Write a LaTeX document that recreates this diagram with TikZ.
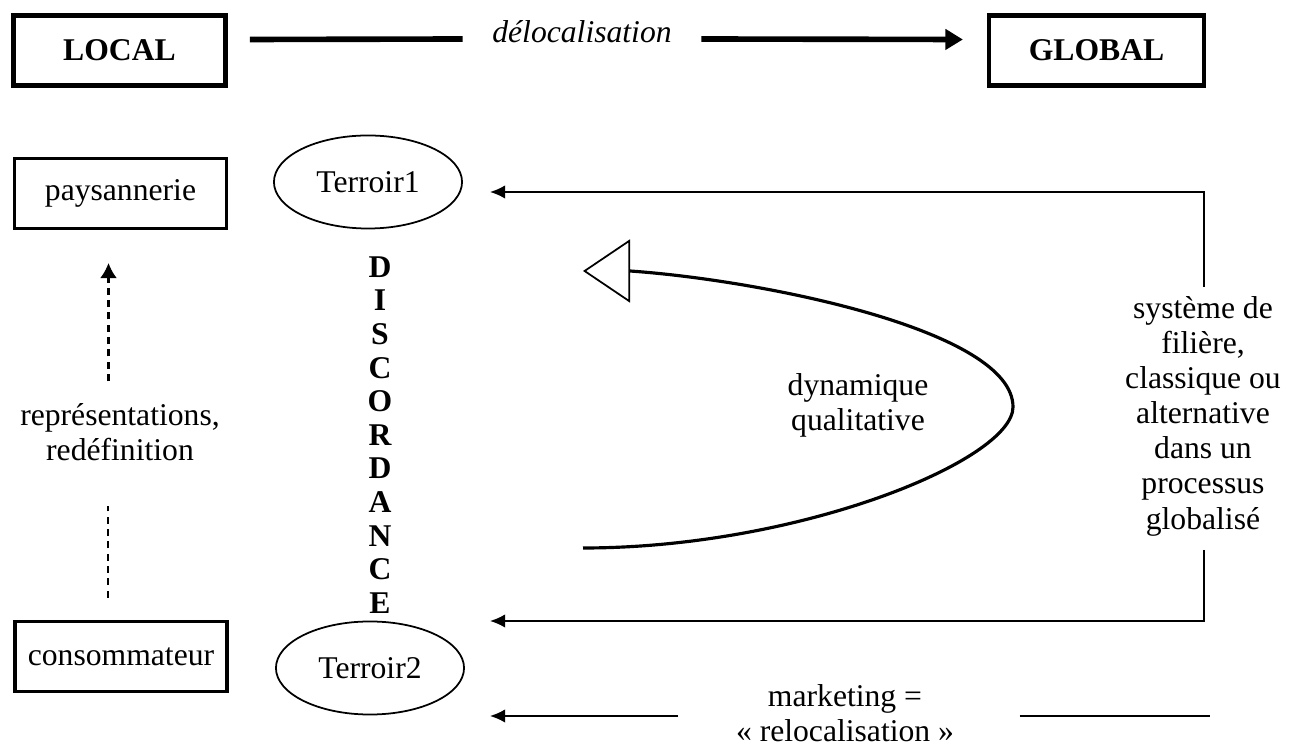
\documentclass[tikz,border=0pt]{standalone}
\usepackage{fontspec}
\setmainfont{Liberation Serif}
\usetikzlibrary{arrows.meta,positioning,calc,shapes.geometric}

\tikzset{
  lbl/.style={inner sep=0pt, align=center, font=\fontsize{9}{10}\selectfont},
  bigbox/.style={draw, line width=1.3pt, minimum width=2.12cm, minimum height=0.7cm, font=\fontsize{9}{10}\selectfont\bfseries},
  smallbox/.style={draw, line width=0.85pt, minimum width=2.12cm, minimum height=0.7cm, font=\fontsize{9}{10}\selectfont},
  terroir/.style={draw, ellipse, line width=0.5pt, minimum width=1.88cm, minimum height=0.93cm, inner sep=0pt, font=\fontsize{9}{10}\selectfont},
  flow/.style={line width=0.5pt, -{Latex[length=4.3pt,width=3.8pt]}},
  dashlink/.style={line width=0.6pt, dash pattern=on 2pt off 1.5pt},
}

\begin{document}
\begin{tikzpicture}[x=0.01cm, y=-0.01cm]
    \useasboundingbox (0,0) rectangle (1290,746);

    % top row
    \node[bigbox] (local) at (119.5,50.5) {LOCAL};
    \node[bigbox, minimum width=2.145cm] (global) at (1096.5,50.5) {GLOBAL};
    \node[lbl, font=\fontsize{9}{10}\selectfont\itshape] (deloc) at (582,32) {délocalisation};
    \draw[line width=1.6pt] ([shift={(22,-11)}]local.east) -- ([shift={(-29,7)}]deloc.west);
    \draw[line width=1.6pt, -{Triangle[length=5pt,width=5.7pt]}] ([shift={(29,7)}]deloc.east) -- ([shift={(-24,-11)}]global.west);

    % left column
    \node[smallbox] (paysan) at (120.5,193.5) {paysannerie};
    \node[smallbox, line width=1.1pt] (conso) at (121,656.5) {consommateur};
    \node[lbl] (rep) at (120,432) {représentations,\\redéfinition};
    \draw[dashlink, -{Latex[length=4.3pt,width=4.8pt]}] ([shift={(-12,151)}]paysan.south) -- ([shift={(-12,33)}]paysan.south);
    \draw[dashlink] ([shift={(-13,-22)}]conso.north) -- ([shift={(-13,-114)}]conso.north);

    % terroirs and discordance
    \node[terroir] (t1) at (368,182) {Terroir1};
    \node[terroir] (t2) at (370,668) {Terroir2};
    \foreach \ch [count=\i from 0] in {D,I,S,C,O,R,D,A,N,C,E}
        \node[lbl, font=\fontsize{9}{10}\selectfont\bfseries] (disc\i) at (380,267+33.6*\i) {\ch};

    % filiere
    \node[lbl] (syst) at (1203,416) {système de\\filière,\\classique ou\\alternative\\dans un\\processus\\globalisé};
    \coordinate (systtop) at (1204,287);
    \coordinate (systbot) at (1204,550);
    \draw[flow] (systtop) |- ([shift={(27,10)}]t1.east);
    \draw[flow] (systbot) |- ([shift={(25,-47)}]t2.east);

    % marketing
    \node[lbl] (mkt) at (845,713) {marketing =\\« relocalisation »};
    \draw[flow] ([shift={(-57,3)}]mkt.west) -- ([shift={(25,48)}]t2.east);
    \draw[line width=0.5pt] ([shift={(65,3)}]mkt.east) -- ([shift={(255,3)}]mkt.east);

    % dynamique
    \node[lbl] (dyn) at (858,405) {dynamique\\qualitative};
    \draw[line width=0.9pt, -{Triangle[open, length=4.7mm, width=6.3mm, line width=0.5pt]}]
        (583,548) .. controls (800,548) and (1013,460) .. (1013,407)
        .. controls (1013,330) and (760,280) .. (630,271) -- (583,271);
\end{tikzpicture}
\end{document}
